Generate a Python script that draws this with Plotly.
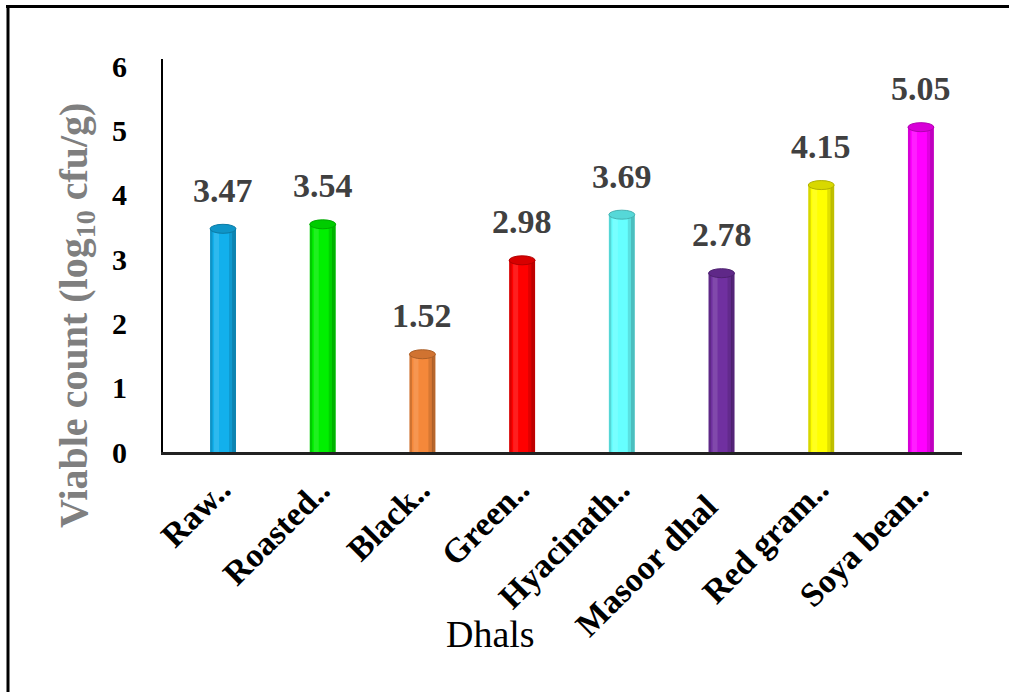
import plotly.graph_objects as go

# Viable counts of dhal samples
categories = ["Raw dhal", "Roasted dhal", "Black gram dhal", "Green gram dhal",
              "Hyacinath bean dhal", "Masoor dhal", "Red gram dhal", "Soya bean dhal"]
tick_labels = ["Raw..", "Roasted..", "Black..", "Green..",
               "Hyacinath..", "Masoor dhal", "Red gram..", "Soya bean.."]
viable_count = [3.47, 3.54, 1.52, 2.98, 3.69, 2.78, 4.15, 5.05]
bar_colors = ["#12B0EC", "#00F000", "#F5883A", "#FF0000",
              "#66FFFF", "#7030A0", "#FFFF00", "#FF00FF"]

W, H = 1009, 692
ML, MR, MT, MB = 163, 47, 59, 240
PW, PH = W - ML - MR, H - MT - MB
Y_MAX = 6.11
PX_PER_UNIT = PH / Y_MAX


def px_x(px):
    return (px - ML) / PW


def px_y(py):
    return (H - MB - py) / PH


def darker(hex_color, f=0.8):
    r, g, b = (int(hex_color[k:k + 2], 16) for k in (1, 3, 5))
    return f"rgb({int(r * f)},{int(g * f)},{int(b * f)})"


SERIF = "Liberation Serif"
idx = list(range(len(categories)))
HALF_W = 0.13

fig = go.Figure()

# body of each cylinder
fig.add_trace(go.Bar(x=idx, y=viable_count, width=2 * HALF_W, offset=-HALF_W,
                     marker=dict(color=bar_colors, line=dict(width=0)),
                     hoverinfo="skip", showlegend=False))
# soft shading to give the bars a rounded look
shades = [(-0.13, 0.025, "rgba(0,0,0,0.16)"),
          (-0.09, 0.05, "rgba(255,255,255,0.12)"),
          (0.06, 0.04, "rgba(0,0,0,0.12)"),
          (0.095, 0.035, "rgba(0,0,0,0.25)")]
for off, wd, col in shades:
    fig.add_trace(go.Bar(x=idx, y=viable_count, width=wd, offset=off,
                         marker=dict(color=col, line=dict(width=0)),
                         hoverinfo="skip", showlegend=False))

# elliptical lid on top of every cylinder
cap_h = 4.5 / PX_PER_UNIT
shapes = []
for i, v, c in zip(idx, viable_count, bar_colors):
    shapes.append(dict(type="circle", xref="x", yref="y",
                       x0=i - HALF_W, x1=i + HALF_W, y0=v - cap_h, y1=v + cap_h,
                       fillcolor=darker(c, 0.85), line=dict(color=darker(c, 0.7), width=1),
                       layer="above"))

annotations = []
# value labels above the bars
for i, v in zip(idx, viable_count):
    annotations.append(dict(x=i, y=v, xref="x", yref="y", text=f"{v:.2f}",
                            showarrow=False, yanchor="bottom", yshift=18,
                            font=dict(family=SERIF, size=34, color="#404040",
                                      weight="bold")))

# slanted category labels, right end hung just past each bar
label_xshift = [17, 17, 17, 17, 17, 6, 17, 17]
label_top = [468, 468, 468, 468, 468, 485, 468, 468]
for i, lbl, dx, ty in zip(idx, tick_labels, label_xshift, label_top):
    annotations.append(dict(x=i, y=px_y(ty), xref="x", yref="paper",
                            xshift=dx, text=lbl, showarrow=False, textangle=-45,
                            xanchor="right", yanchor="top",
                            font=dict(family=SERIF, size=34, color="black",
                                      weight="bold")))

# axis titles
annotations.append(dict(x=px_x(76), y=px_y(316), xref="paper", yref="paper",
                        text="Viable count (log<sub>10</sub> cfu/g)",
                        showarrow=False, textangle=-90,
                        xanchor="center", yanchor="middle",
                        font=dict(family=SERIF, size=40, color="#7F7F7F",
                                  weight="bold")))
annotations.append(dict(x=px_x(490), y=px_y(634), xref="paper", yref="paper",
                        text="Dhals", showarrow=False,
                        xanchor="center", yanchor="middle",
                        font=dict(family=SERIF, size=38, color="black")))

# outer frame of the chart
shapes += [
    dict(type="line", xref="paper", yref="paper", x0=px_x(6), x1=px_x(1012),
         y0=px_y(6.5), y1=px_y(6.5), line=dict(color="black", width=3)),
    dict(type="line", xref="paper", yref="paper", x0=px_x(8), x1=px_x(8),
         y0=px_y(5), y1=px_y(700), line=dict(color="black", width=3)),
]

fig.update_layout(
    width=W, height=H,
    margin=dict(l=ML, r=MR, t=MT, b=MB),
    paper_bgcolor="white", plot_bgcolor="white",
    barmode="overlay",
    annotations=annotations,
    shapes=shapes,
    xaxis=dict(range=[-0.602, 7.412], showticklabels=False, ticks="",
               showgrid=False, zeroline=False, showline=True,
               linecolor="#222222", linewidth=3),
    yaxis=dict(range=[0, Y_MAX], tickvals=[0, 1, 2, 3, 4, 5, 6],
               showgrid=False, zeroline=False, showline=True,
               linecolor="black", linewidth=2, ticks="",
               ticklabelstandoff=28,
               tickfont=dict(family=SERIF, size=30, color="black",
                             weight="bold")),
)

fig.write_html("out.html")
